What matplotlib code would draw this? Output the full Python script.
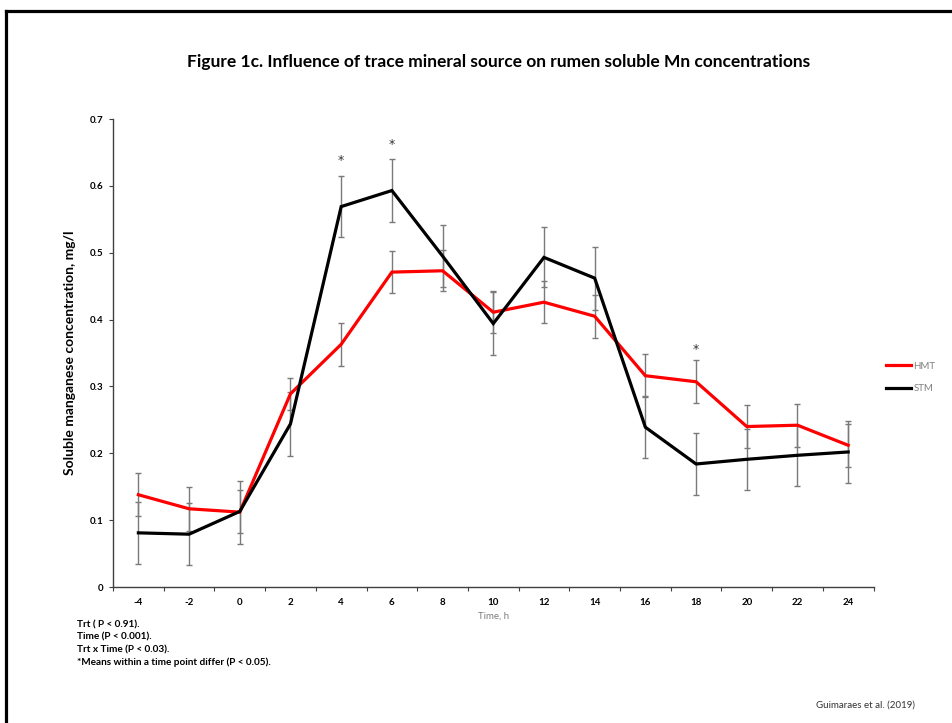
import matplotlib.pyplot as plt
from matplotlib.lines import Line2D

plt.rcParams['font.family'] = ['Lato', 'DejaVu Sans']

# sampling times (h) relative to feeding
times = [-4, -2, 0, 2, 4, 6, 8, 10, 12, 14, 16, 18, 20, 22, 24]

# soluble Mn, mg/l
hmt = [0.138, 0.117, 0.112, 0.289, 0.363, 0.471, 0.473, 0.411, 0.426, 0.405,
       0.316, 0.307, 0.240, 0.242, 0.212]
stm = [0.081, 0.079, 0.113, 0.244, 0.569, 0.593, 0.495, 0.394, 0.493, 0.462,
       0.239, 0.184, 0.191, 0.197, 0.202]
hmt_se = [0.032, 0.033, 0.047, 0.024, 0.032, 0.031, 0.031, 0.031, 0.031, 0.032,
          0.032, 0.032, 0.032, 0.032, 0.032]
stm_se = [0.046, 0.046, 0.032, 0.048, 0.046, 0.047, 0.046, 0.047, 0.045, 0.047,
          0.046, 0.046, 0.046, 0.046, 0.046]

# time points where treatments differ
sig_times = [4, 6, 18]
sig_heights = [0.638, 0.662, 0.355]

notes = ["Trt ( P < 0.91).",
         "Time (P < 0.001).",
         "Trt x Time (P < 0.03).",
         "*Means within a time point differ (P < 0.05)."]

fig = plt.figure(figsize=(9.53, 7.23), dpi=100)
ax = fig.add_axes([0.1186, 0.1881, 0.7980, 0.6473])

x = list(range(len(times)))
err_kw = dict(fmt='none', ecolor='#7a7a7a', elinewidth=1.0, capsize=2.2, capthick=1.0)
ax.errorbar(x, hmt, yerr=hmt_se, **err_kw)
ax.errorbar(x, stm, yerr=stm_se, **err_kw)
ax.plot(x, hmt, color='#ff0000', lw=2.3, label='HMT', solid_joinstyle='miter')
ax.plot(x, stm, color='black', lw=2.3, label='STM', solid_joinstyle='miter')

for t, h in zip(sig_times, sig_heights):
    ax.text(times.index(t), h, '*', ha='center', va='center', fontsize=9,
            color='#333333', family='DejaVu Sans')

ax.set_xlim(-0.5, len(times) - 0.5)
ax.set_ylim(0, 0.7)
ax.set_yticks([0, 0.1, 0.2, 0.3, 0.4, 0.5, 0.6, 0.7])
ax.set_yticklabels(['0', '0.1', '0.2', '0.3', '0.4', '0.5', '0.6', '0.7'],
                   fontsize=7, fontweight='bold')
# tick marks sit between categories, labels at the centres
ax.set_xticks([i - 0.5 for i in range(len(times) + 1)])
ax.set_xticklabels([])
ax.set_xticks(x, minor=True)
ax.set_xticklabels([str(t) for t in times], minor=True, fontsize=7, fontweight='bold')
ax.tick_params(axis='x', which='minor', length=0, pad=8)
ax.tick_params(axis='x', which='major', length=3, direction='out', color='#404040')
ax.tick_params(axis='y', length=3, direction='out', color='#404040', pad=4)

for side in ['top', 'right']:
    ax.spines[side].set_visible(False)
for side in ['left', 'bottom']:
    ax.spines[side].set_color('#404040')
    ax.spines[side].set_linewidth(1.0)

ax.set_ylabel('Soluble manganese concentration, mg/l', fontsize=10, fontweight='bold',
              labelpad=10)
ax.set_xlabel('Time, h', fontsize=7, color='#7f7f7f', labelpad=3)

ax.legend(loc='center left', bbox_to_anchor=(1.005, 0.448), frameon=False, fontsize=7,
          labelcolor='#7f7f7f', handlelength=2.6, handletextpad=0.2, labelspacing=1.4)

fig.text(0.523, 0.914, 'Figure 1c. Influence of trace mineral source on rumen soluble Mn concentrations',
         ha='center', va='center', fontsize=12.5, fontweight='bold')

for i, line in enumerate(notes):
    fig.text(0.081, 1 - (625 + 12.3 * i) / 723, line, ha='left', va='center',
             fontsize=7.2, fontweight='bold')

fig.text(0.96, 1 - 705 / 723, 'Guimaraes et al. (2019)', ha='right', va='center',
         fontsize=7, color='#333333')

# page frame: top and left edges
fig.add_artist(Line2D([0.0068, 1.0], [1 - 10.5 / 723, 1 - 10.5 / 723], color='black', lw=2.3))
fig.add_artist(Line2D([0.0068, 0.0068], [0.0, 1 - 10.5 / 723], color='black', lw=2.3))

fig.savefig('out.png', dpi=100)
